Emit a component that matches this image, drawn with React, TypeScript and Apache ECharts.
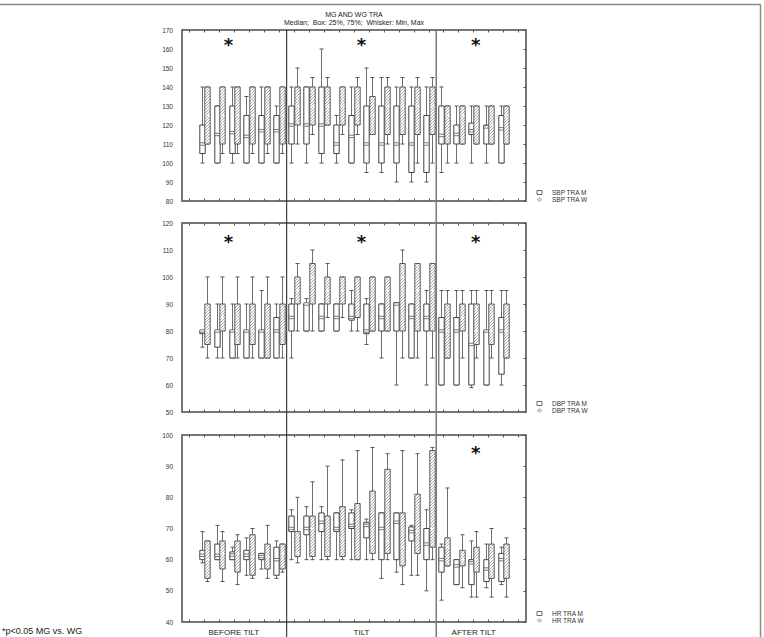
import React, { useEffect, useRef } from 'react';
import * as echarts from 'echarts';

// 23 category slots: an empty slot at each end, 6 before tilt, 10 during tilt, 5 after tilt
const categories = ['', 'B1', 'B2', 'B3', 'B4', 'B5', 'B6',
  'T1', 'T2', 'T3', 'T4', 'T5', 'T6', 'T7', 'T8', 'T9', 'T10',
  'A1', 'A2', 'A3', 'A4', 'A5', ''];

// each row: [min, q1, median, q3, max]
const sbpM = [
  [100, 105, 110, 120, 140], [100, 100, 115, 130, 130], [100, 105, 116, 130, 140], [100, 100, 114, 125, 135],
  [100, 100, 117, 125, 140], [100, 100, 117, 125, 130],
  [100, 110, 120, 130, 140], [100, 110, 120, 140, 140], [100, 105, 120, 140, 160], [100, 105, 110, 120, 125],
  [100, 100, 114, 125, 140], [95, 100, 110, 130, 150], [95, 100, 110, 130, 145], [90, 100, 110, 130, 140],
  [90, 95, 110, 130, 140], [90, 95, 110, 125, 140],
  [95, 110, 114.5, 130, 140], [100, 110, 115, 120, 130], [100, 115, 117, 121, 130], [100, 110, 119, 120, 130],
  [100, 100, 118, 125, 130],
];
const sbpW = [
  [110, 110, 125, 140, 140], [105, 110, 125, 140, 140], [105, 110, 125, 140, 140], [105, 110, 125, 140, 140],
  [105, 110, 125, 140, 140], [105, 110, 125, 140, 140],
  [110, 120, 130, 140, 150], [115, 120, 130, 140, 145], [120, 120, 130, 140, 145], [115, 120, 130, 140, 140],
  [115, 120, 130, 140, 145], [115, 115, 125, 135, 145], [110, 115, 130, 140, 145], [110, 115, 130, 140, 145],
  [100, 115, 130, 140, 145], [100, 115, 130, 140, 145],
  [100, 110, 125, 130, 130], [110, 110, 125, 130, 130], [110, 110, 120, 130, 130], [110, 110, 120, 130, 130],
  [110, 110, 125, 130, 130],
];
const dbpM = [
  [74, 79, 80, 80, 80], [70, 74, 80, 80, 90], [70, 70, 80, 80, 90], [70, 70, 80, 80, 90],
  [70, 70, 80, 80, 95], [70, 70, 80, 85, 90],
  [70, 80, 85, 90, 92], [80, 80, 90, 90, 92], [80, 80, 85, 90, 90], [80, 80, 85, 90, 90],
  [80, 84, 85, 90, 95], [75, 79, 80, 90, 92], [70, 80, 85, 90, 90], [60, 80, 90, 90.5, 90.5],
  [70, 70, 85, 90, 90], [60, 80, 85, 90, 95],
  [60, 60, 80, 85, 95], [60, 60, 80, 85, 95], [59, 60, 75, 90, 95], [60, 60, 80, 80, 95],
  [60, 64, 80, 85, 95],
];
const dbpW = [
  [70, 75, 80, 90, 100], [70, 80, 85, 90, 100], [70, 75, 80, 90, 100], [70, 75, 80, 90, 100],
  [70, 70, 80, 90, 100], [70, 75, 80, 90, 100],
  [80, 90, 95, 100, 105], [80, 90, 100, 105, 110], [85, 90, 95, 100, 105], [85, 90, 95, 100, 100],
  [80, 85, 90, 100, 100], [80, 80, 90, 100, 100], [80, 80, 95, 100, 100], [70, 80, 100, 105, 110],
  [70, 80, 95, 105, 105], [70, 80, 95, 105, 105],
  [70, 70, 80, 90, 95], [70, 80, 85, 90, 95], [70, 75, 80, 90, 95], [70, 75, 80, 90, 95],
  [70, 70, 80, 90, 95],
];
const hrM = [
  [59, 60, 61.4, 63, 69], [60, 60, 61.4, 65, 71], [60, 60, 61.5, 62.5, 64], [55, 60, 61.4, 63, 67],
  [57, 60, 61, 62, 62], [54, 55, 60, 64, 66],
  [60, 69, 70, 74, 76], [60, 68, 70, 74, 77], [60, 69, 72, 75, 77], [60, 69, 70, 75, 75],
  [60, 70, 71, 75, 76], [60, 67, 71, 72, 73], [54, 60, 70, 75, 75], [56, 60, 72, 75, 75],
  [55, 66, 69, 70.5, 71], [50, 60, 65, 70, 76],
  [47, 56, 60, 64, 65], [52, 52, 58, 60, 60], [48, 52, 59, 60, 66], [51, 53, 57, 60, 65],
  [52, 53, 60, 62, 64],
];
const hrW = [
  [53, 54, 60, 66, 66], [53, 57, 62, 66, 69], [52, 56, 62, 66, 68], [54, 55, 61, 68, 70],
  [54, 57, 61, 65, 71], [56, 57, 62, 65, 65],
  [59, 61, 62, 69, 80], [60, 61, 70, 74, 85], [60, 61, 62, 74, 90], [60, 61, 67, 77, 92],
  [60, 60, 62, 78, 95], [60, 62, 65, 82, 96], [60, 62, 66, 89, 94], [52, 58, 64, 75, 95],
  [55, 62, 69, 81, 94], [60, 64, 70, 95, 96],
  [58, 58, 64, 67, 83], [51, 58, 60, 63, 68], [48, 56, 60, 64, 69], [48, 54, 60, 65, 70],
  [48, 54, 61, 65, 67],
];

const yMins = [80, 50, 40];
const yMaxs = [170, 120, 100];
const legendNames = [['SBP TRA M', 'SBP TRA W'], ['DBP TRA M', 'DBP TRA W'], ['HR TRA M', 'HR TRA W']];
const phaseLabels = ['BEFORE TILT', 'TILT', 'AFTER TILT'];
// significance star per phase, per panel
const starsSBP = [1, 1, 1];
const starsDBP = [1, 1, 1];
const starsHR = [0, 0, 1];
const titleText = 'MG AND WG TRA';
const subtitleText = 'Median;  Box: 25%, 75%;  Whisker: Min, Max';
const footnote = '*p<0.05 MG vs. WG';

const FONT = '"Liberation Sans", Arial, sans-serif';

function toRows(arr: number[][]) {
  return arr.map((r, i) => [i + 1, ...r]);
}

function makePattern() {
  const c = document.createElement('canvas');
  c.width = 3;
  c.height = 3;
  const ctx = c.getContext('2d')!;
  ctx.fillStyle = '#ffffff';
  ctx.fillRect(0, 0, 3, 3);
  ctx.strokeStyle = '#a3a3a3';
  ctx.lineWidth = 0.9;
  ctx.beginPath();
  ctx.moveTo(-1, 4); ctx.lineTo(4, -1);
  ctx.moveTo(-1, 1); ctx.lineTo(1, -1);
  ctx.moveTo(2, 4); ctx.lineTo(4, 2);
  ctx.stroke();
  return { image: c.toDataURL(), repeat: 'repeat', imageWidth: 3, imageHeight: 3 } as any;
}

function makeRender(hatched: boolean, pattern: any) {
  return (params: any, api: any) => {
    const cat = api.value(0);
    const band = api.size([1, 0])[0];
    const off = band * 0.19 * (hatched ? 1 : -1);
    const bw = band * 0.36;
    const pMin = api.coord([cat, api.value(1)]);
    const yMin = pMin[1];
    const yQ1 = api.coord([cat, api.value(2)])[1];
    const yMed = api.coord([cat, api.value(3)])[1];
    const yQ3 = api.coord([cat, api.value(4)])[1];
    const yMax = api.coord([cat, api.value(5)])[1];
    const cx = Math.round(pMin[0] + off) + 0.5;
    const wStyle = { stroke: '#6e6e6e', lineWidth: 1 };
    const children: any[] = [
      { type: 'line', shape: { x1: cx, y1: yMax, x2: cx, y2: yQ3 }, style: wStyle },
      { type: 'line', shape: { x1: cx, y1: yQ1, x2: cx, y2: yMin }, style: wStyle },
      { type: 'line', shape: { x1: cx - 2, y1: yMax, x2: cx + 2, y2: yMax }, style: { stroke: '#555', lineWidth: 1 } },
      { type: 'line', shape: { x1: cx - 2, y1: yMin, x2: cx + 2, y2: yMin }, style: { stroke: '#555', lineWidth: 1 } },
      {
        type: 'rect',
        shape: { x: cx - bw / 2, y: yQ3, width: bw, height: Math.max(yQ1 - yQ3, 0.5) },
        style: { fill: hatched ? pattern : '#ffffff', stroke: hatched ? '#5a5a5a' : '#444', lineWidth: 1 },
      },
    ];
    if (hatched) {
      children.push({
        type: 'line',
        shape: { x1: cx - bw / 2 + 0.8, y1: yMed, x2: cx + bw / 2 - 0.8, y2: yMed },
        style: { stroke: '#ffffff', lineWidth: 1.2 },
      });
    } else {
      children.push({
        type: 'rect',
        shape: { x: cx - bw / 2, y: yMed - 1.2, width: bw, height: 2.4 },
        style: { fill: '#ffffff', stroke: '#555', lineWidth: 0.8 },
      });
    }
    return { type: 'group', children };
  };
}

export default function App() {
  const ref = useRef<HTMLDivElement>(null);
  useEffect(() => {
    if (!ref.current) return;
    const chart = echarts.init(ref.current, null, { renderer: 'svg' });
    const pattern = makePattern();
    const grids = [
      { left: 182, top: 30, width: 344, height: 171 },
      { left: 182, top: 223, width: 344, height: 189 },
      { left: 182, top: 435, width: 344, height: 187 },
    ];
    const starOffsets = [11, 15, 14];
    const mData = [sbpM, dbpM, hrM];
    const wData = [sbpW, dbpW, hrW];
    const xAxes: any[] = [];
    const yAxes: any[] = [];
    const series: any[] = [];
    grids.forEach((g, i) => {
      const tick = { show: true, inside: true, alignWithLabel: true, interval: 0, length: 2.5, lineStyle: { color: '#555', width: 1 } };
      xAxes.push({
        type: 'category', gridIndex: i, data: categories, position: 'bottom', boundaryGap: true,
        axisLine: { show: false }, axisTick: tick, axisLabel: { show: false }, splitLine: { show: false },
      });
      xAxes.push({
        type: 'category', gridIndex: i, data: categories, position: 'top', boundaryGap: true,
        axisLine: { show: false }, axisTick: tick, axisLabel: { show: false }, splitLine: { show: false },
      });
      yAxes.push({
        type: 'value', gridIndex: i, min: yMins[i], max: yMaxs[i], interval: 10, position: 'left',
        axisLine: { show: false }, axisTick: { show: false },
        axisLabel: { fontSize: 6.5, color: '#333', fontFamily: FONT, margin: 9 },
        splitLine: { show: false },
      });
      yAxes.push({
        type: 'value', gridIndex: i, min: yMins[i], max: yMaxs[i], interval: 10, position: 'right',
        axisLine: { show: false }, axisTick: { show: true, inside: true, length: 2.5, lineStyle: { color: '#555' } },
        axisLabel: { show: false }, splitLine: { show: false },
      });
      series.push({
        type: 'custom', name: legendNames[i][0], xAxisIndex: 2 * i, yAxisIndex: 2 * i,
        data: toRows(mData[i]), encode: { x: 0, y: [1, 2, 3, 4, 5] },
        renderItem: makeRender(false, pattern), z: 3,
      });
      series.push({
        type: 'custom', name: legendNames[i][1], xAxisIndex: 2 * i, yAxisIndex: 2 * i,
        data: toRows(wData[i]), encode: { x: 0, y: [1, 2, 3, 4, 5] },
        renderItem: makeRender(true, pattern), z: 3,
      });
    });

    chart.setOption({
      animation: false,
      backgroundColor: '#ffffff',
      grid: grids.map((g) => ({ ...g, show: true, borderColor: '#4a4a4a', borderWidth: 1.5, backgroundColor: 'transparent' })),
      xAxis: xAxes,
      yAxis: yAxes,
      series,
    });

    // separators and decorations positioned from the axes
    const px = (cat: number) => chart.convertToPixel({ xAxisIndex: 0 }, cat) as number;
    const sep1 = (px(6) + px(7)) / 2;
    const sep2 = (px(16) + px(17)) / 2;
    const phaseCenters = [(px(1) + px(6)) / 2 - 8, (px(7) + px(16)) / 2, (px(17) + px(21)) / 2];
    const starCenters = [px(2) + 9, (px(7) + px(16)) / 2, (px(17) + px(21)) / 2 + 2];
    const graphics: any[] = [
      { type: 'line', shape: { x1: 0, y1: 4.5, x2: 760.5, y2: 4.5 }, style: { stroke: '#8a8a8a', lineWidth: 1.5 } },
      { type: 'line', shape: { x1: 760.5, y1: 4.5, x2: 760.5, y2: 637 }, style: { stroke: '#8a8a8a', lineWidth: 1.5 } },
      { type: 'text', x: 354, y: 14, style: { text: titleText, fontSize: 7, fontFamily: FONT, fill: '#222', align: 'center', verticalAlign: 'middle' } },
      { type: 'text', x: 354, y: 22, style: { text: subtitleText, fontSize: 7, fontFamily: FONT, fill: '#222', align: 'center', verticalAlign: 'middle' } },
      { type: 'line', z: 10, shape: { x1: sep1, y1: 30, x2: sep1, y2: 640 }, style: { stroke: '#1a1a1a', lineWidth: 1 } },
      { type: 'line', z: 10, shape: { x1: sep2, y1: 30, x2: sep2, y2: 640 }, style: { stroke: '#7a7a7a', lineWidth: 1.5 } },
      { type: 'text', x: 2, y: 631, style: { text: footnote, fontSize: 9, fontFamily: FONT, fill: '#222', align: 'left', verticalAlign: 'middle' } },
    ];
    phaseLabels.forEach((t, k) => {
      graphics.push({ type: 'text', x: phaseCenters[k], y: 632.5, style: { text: t, fontSize: 8, fontFamily: FONT, fill: '#222', align: 'center', verticalAlign: 'middle' } });
    });
    const stars = [starsSBP, starsDBP, starsHR];
    grids.forEach((g, i) => {
      stars[i].forEach((s, k) => {
        if (!s) return;
        graphics.push({
          type: 'text', x: starCenters[k], y: g.top + starOffsets[i] + 3,
          style: { text: '*', fontSize: 18, fontWeight: 'bold', fontFamily: '"DejaVu Sans", sans-serif', fill: '#111', align: 'center', verticalAlign: 'middle' },
        });
      });
      const bottom = g.top + g.height;
      const lx = 537;
      graphics.push({ type: 'rect', shape: { x: lx, y: bottom - 10.5, width: 5, height: 4 }, style: { fill: '#fff', stroke: '#444', lineWidth: 0.8 } });
      graphics.push({ type: 'polygon', shape: { points: [[lx, bottom - 1.5], [lx + 2.5, bottom - 3.3], [lx + 5, bottom - 1.5], [lx + 2.5, bottom + 0.3]] }, style: { fill: '#ddd', stroke: '#999', lineWidth: 0.7 } });
      graphics.push({ type: 'text', x: 552, y: bottom - 8.5, style: { text: legendNames[i][0], fontSize: 6.5, fontFamily: FONT, fill: '#333', align: 'left', verticalAlign: 'middle' } });
      graphics.push({ type: 'text', x: 552, y: bottom - 1.5, style: { text: legendNames[i][1], fontSize: 6.5, fontFamily: FONT, fill: '#333', align: 'left', verticalAlign: 'middle' } });
    });
    chart.setOption({ graphic: graphics });

    return () => chart.dispose();
  }, []);
  return <div ref={ref} style={{ position: 'fixed', left: 0, top: 0, width: 764, height: 637, background: '#fff' }} />;
}
